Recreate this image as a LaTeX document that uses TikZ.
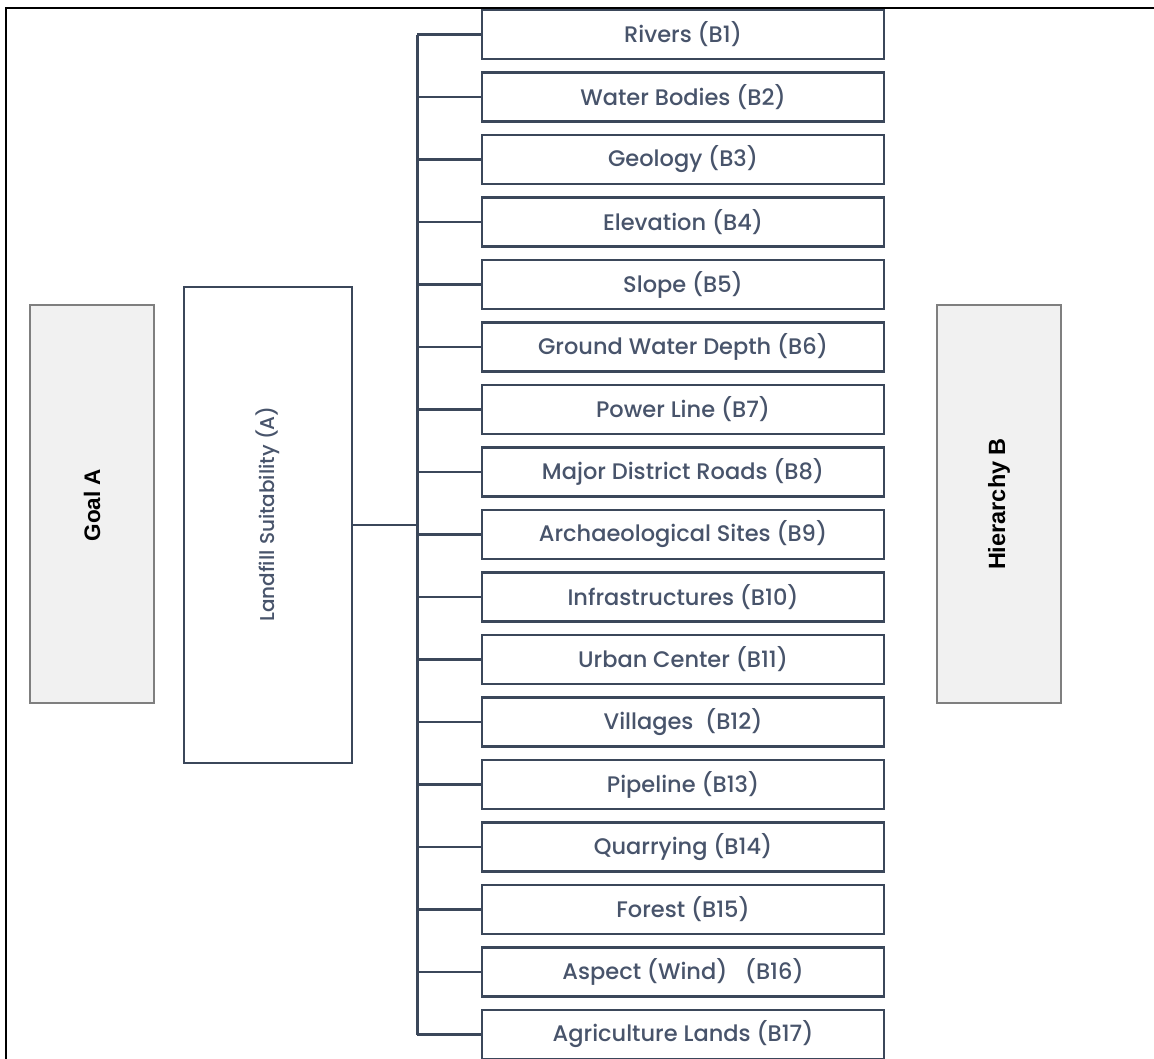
\documentclass[tikz,border=0pt]{standalone}
\usepackage{fontspec}
\setmainfont{Poppins}[UprightFont={* Medium}]
\newfontfamily\boldlabel{Liberation Sans}[BoldFont={* Bold}]
\definecolor{slate}{HTML}{3B475A}
\definecolor{slatetext}{HTML}{48546B}
\definecolor{panelfill}{HTML}{F1F1F1}
\definecolor{panelline}{HTML}{7F7F7F}
\tikzset{
  critbox/.style={draw=slate, line width=2.4pt, fill=white, minimum width=402pt,
    minimum height=49pt, inner sep=0pt, text=slatetext, font=\fontsize{22.5}{26}\selectfont},
  goalbox/.style={draw=slate, line width=2.4pt, fill=white, minimum width=168pt,
    minimum height=476pt, inner sep=0pt},
  sidepanel/.style={draw=panelline, line width=2pt, fill=panelfill, minimum width=124pt,
    minimum height=398pt, inner sep=0pt},
  link/.style={draw=slate, line width=2.4pt},
  spinebar/.style={draw=slate, line width=3pt},
}
\begin{document}
\begin{tikzpicture}[x=1pt,y=-1pt]
\useasboundingbox (0,0) rectangle (1154,1058);
\clip (0,0) rectangle (1154,1058);
% outer frame (runs off the page at right and bottom)
\draw[black, line width=2pt] (6,1080) -- (6,8) -- (1180,8);

% side panels
\node[sidepanel] (goal) at (92,504) {};
\node[rotate=90, font=\boldlabel\bfseries\fontsize{22.5}{26}\selectfont] (goaltxt) at (92,505) {Goal A};
\node[sidepanel] (hier) at (999,504) {};
\node[rotate=90, font=\boldlabel\bfseries\fontsize{23.5}{27}\selectfont] (hiertxt) at (999,504) {Hierarchy B};

% main goal
\node[goalbox] (land) at (268,525) {};
\node[rotate=90, text=slatetext, font=\fontsize{20}{24}\selectfont] (landtxt) at (268,514) {Landfill Suitability (A)};

% criteria
\foreach \i/\lab in {
  1/Rivers (B1),
  2/Water Bodies (B2),
  3/Geology (B3),
  4/Elevation (B4),
  5/Slope (B5),
  6/Ground Water Depth (B6),
  7/Power Line (B7),
  8/Major District Roads (B8),
  9/Archaeological Sites (B9),
  10/Infrastructures (B10),
  11/Urban Center (B11),
  12/Villages~ (B12),
  13/Pipeline (B13),
  14/Quarrying (B14),
  15/Forest (B15),
  16/Aspect (Wind)~~ (B16),
  17/Agriculture Lands (B17)}
  \node[critbox] (b\i) at (683,{34.5+62.5*(\i-1)}) {\lab};

% tree connectors
\coordinate (spx) at (417,0);
\draw[spinebar] (b1.west -| spx) -- (b17.west -| spx);
\foreach \i in {1,...,17}
  \draw[link] (b\i.west -| spx) -- (b\i.west);
\draw[link] (land.east) -- (land.east -| spx);
\end{tikzpicture}
\end{document}
